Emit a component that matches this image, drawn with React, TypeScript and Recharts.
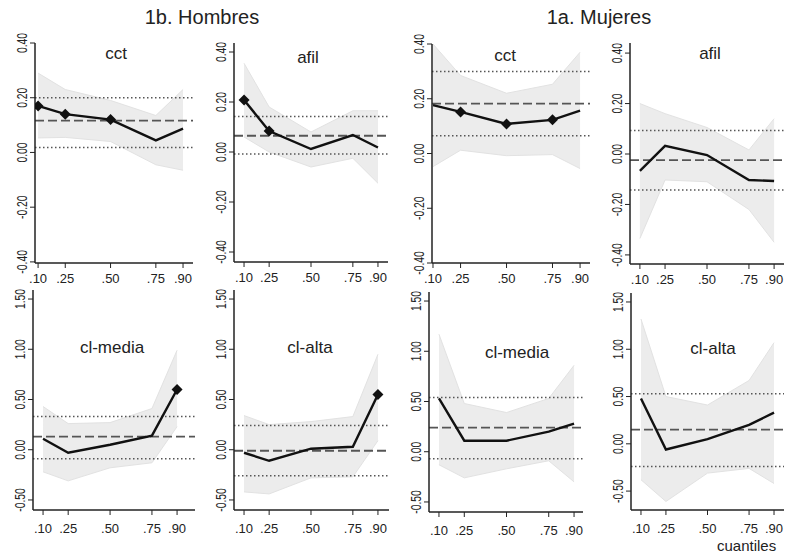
import { ComposedChart, Area, Line, XAxis, YAxis, ReferenceLine } from 'recharts'

const quantiles = [0.1, 0.25, 0.5, 0.75, 0.9]
const xTickLabels = ['.10', '.25', '.50', '.75', '.90']
const topTicks = [0.4, 0.2, 0, -0.2, -0.4]
const bottomTicks = [1.5, 1, 0.5, 0, -0.5]

// 1b. Hombres
const hCctEst = [0.17, 0.14, 0.12, 0.044, 0.087]
const hCctLo = [0.053, 0.055, 0.04, -0.045, -0.065]
const hCctHi = [0.29, 0.23, 0.19, 0.135, 0.23]
const hCctSig = [true, true, true, false, false]
const hCctOls = [0.116, 0.018, 0.2] // estimate, lower, upper

const hAfilEst = [0.208, 0.084, 0.012, 0.068, 0.018]
const hAfilLo = [0.06, 0.0, -0.06, -0.025, -0.125]
const hAfilHi = [0.355, 0.18, 0.08, 0.165, 0.165]
const hAfilSig = [true, true, false, false, false]
const hAfilOls = [0.065, -0.008, 0.142]

const hMediaEst = [0.11, -0.03, 0.05, 0.14, 0.6]
const hMediaLo = [-0.22, -0.31, -0.18, -0.13, 0.23]
const hMediaHi = [0.43, 0.26, 0.27, 0.41, 0.99]
const hMediaSig = [false, false, false, false, true]
const hMediaOls = [0.13, -0.09, 0.33]

const hAltaEst = [-0.03, -0.11, 0.01, 0.03, 0.55]
const hAltaLo = [-0.42, -0.44, -0.28, -0.27, 0.09]
const hAltaHi = [0.34, 0.25, 0.28, 0.33, 0.95]
const hAltaSig = [false, false, false, false, true]
const hAltaOls = [-0.01, -0.26, 0.24]

// 1a. Mujeres
const mCctEst = [0.177, 0.152, 0.108, 0.123, 0.157]
const mCctLo = [-0.048, 0.012, -0.008, -0.004, -0.055]
const mCctHi = [0.4, 0.285, 0.22, 0.253, 0.37]
const mCctSig = [false, true, true, true, false]
const mCctOls = [0.182, 0.065, 0.3]

const mAfilEst = [-0.067, 0.032, -0.004, -0.103, -0.107]
const mAfilLo = [-0.335, -0.103, -0.11, -0.22, -0.35]
const mAfilHi = [0.2, 0.16, 0.105, 0.016, 0.14]
const mAfilSig = [false, false, false, false, false]
const mAfilOls = [-0.024, -0.143, 0.093]

const mMediaEst = [0.53, 0.11, 0.11, 0.2, 0.28]
const mMediaLo = [-0.13, -0.26, -0.17, -0.09, -0.3]
const mMediaHi = [1.17, 0.48, 0.39, 0.53, 0.86]
const mMediaSig = [false, false, false, false, false]
const mMediaOls = [0.24, -0.07, 0.54]

const mAltaEst = [0.48, -0.06, 0.05, 0.2, 0.33]
const mAltaLo = [-0.38, -0.61, -0.31, -0.26, -0.42]
const mAltaHi = [1.32, 0.5, 0.41, 0.67, 1.07]
const mAltaSig = [false, false, false, false, false]
const mAltaOls = [0.15, -0.24, 0.53]

const FONT = '"Liberation Sans", Arial, sans-serif'
const INK = '#222'
const PAD = 14

type Box = { x0: number; x1: number; y0: number; y1: number }

interface PanelProps {
  est: number[]
  lo: number[]
  hi: number[]
  sig: boolean[]
  ols: number[]
  ticks: number[]
  box: Box
  xDomain: [number, number]
  yDomain: [number, number]
  labelDy: number
}

function Diamond(props: any) {
  const { cx, cy, index, sig } = props
  if (!sig[index] || cx == null) return <g key={`d${index}`} />
  const r = 5.5
  return (
    <path
      key={`d${index}`}
      d={`M${cx},${cy - r}L${cx + r},${cy}L${cx},${cy + r}L${cx - r},${cy}Z`}
      fill="#111"
    />
  )
}

function Panel({ est, lo, hi, sig, ols, ticks, box, xDomain, yDomain, labelDy }: PanelProps) {
  const data = quantiles.map((q, i) => ({ q, est: est[i], band: [lo[i], hi[i]] }))
  const left = box.x0 - 30
  const top = box.y0 - PAD
  const width = box.x1 - left + 2
  const height = box.y1 - top + 30

  return (
    <div style={{ position: 'absolute', left, top }}>
      <ComposedChart
        width={width}
        height={height}
        data={data}
        margin={{ top: PAD, right: 2, bottom: 0, left: 0 }}
      >
        <XAxis
          type="number"
          dataKey="q"
          domain={xDomain}
          ticks={quantiles}
          interval={0}
          allowDataOverflow
          axisLine={{ stroke: INK, strokeWidth: 1.5 }}
          tickLine={{ stroke: INK }}
          tickSize={5}
          height={30}
          tick={({ x, y, payload }: any) => (
            <text x={x} y={y + labelDy} textAnchor="middle" fontSize={13} fill={INK} fontFamily={FONT}>
              {xTickLabels[quantiles.indexOf(payload.value)]}
            </text>
          )}
        />
        <YAxis
          type="number"
          domain={yDomain}
          ticks={ticks}
          interval={0}
          allowDataOverflow
          width={30}
          axisLine={{ stroke: INK, strokeWidth: 1.5 }}
          tickLine={{ stroke: INK }}
          tickSize={5}
          tick={({ x, y, payload }: any) => (
            <text
              transform={`translate(${x - 1},${y}) rotate(-90) scale(0.74,1)`}
              textAnchor="middle"
              fontSize={14}
              fill={INK}
              fontFamily={FONT}
            >
              {payload.value.toFixed(2)}
            </text>
          )}
        />
        <Area
          type="linear"
          dataKey="band"
          stroke="#e2e2e2"
          strokeWidth={1}
          fill="#ececec"
          fillOpacity={1}
          isAnimationActive={false}
        />
        <ReferenceLine y={ols[1]} stroke="#555" strokeWidth={1.5} strokeDasharray="1.5 2.5" />
        <ReferenceLine y={ols[2]} stroke="#555" strokeWidth={1.5} strokeDasharray="1.5 2.5" />
        <ReferenceLine y={ols[0]} stroke="#555" strokeWidth={1.8} strokeDasharray="9 4" />
        <Line
          type="linear"
          dataKey="est"
          stroke="#111"
          strokeWidth={2.4}
          dot={(p: any) => <Diamond {...p} sig={sig} />}
          activeDot={false}
          isAnimationActive={false}
        />
      </ComposedChart>
    </div>
  )
}

const titleStyle = { fontFamily: FONT, fill: INK }

export default function App() {
  return (
    <div style={{ position: 'absolute', left: 0, top: 0, width: 785, height: 553, background: '#fff', overflow: 'hidden' }}>
      <Panel est={hCctEst} lo={hCctLo} hi={hCctHi} sig={hCctSig} ols={hCctOls} ticks={topTicks}
        box={{ x0: 35, x1: 193, y0: 43, y1: 263 }} xDomain={[0.083, 0.955]} yDomain={[-0.404, 0.4]} labelDy={13} />
      <Panel est={hAfilEst} lo={hAfilLo} hi={hAfilHi} sig={hAfilSig} ols={hAfilOls} ticks={topTicks}
        box={{ x0: 234, x1: 388, y0: 43, y1: 262 }} xDomain={[0.04, 0.96]} yDomain={[-0.44, 0.436]} labelDy={13} />
      <Panel est={mCctEst} lo={mCctLo} hi={mCctHi} sig={mCctSig} ols={mCctOls} ticks={topTicks}
        box={{ x0: 432, x1: 590, y0: 44, y1: 263 }} xDomain={[0.0946, 0.954]} yDomain={[-0.4, 0.4]} labelDy={13} />
      <Panel est={mAfilEst} lo={mAfilLo} hi={mAfilHi} sig={mAfilSig} ols={mAfilOls} ticks={topTicks}
        box={{ x0: 630, x1: 784, y0: 43, y1: 264 }} xDomain={[0.041, 0.959]} yDomain={[-0.436, 0.44]} labelDy={13} />

      <Panel est={hMediaEst} lo={hMediaLo} hi={hMediaHi} sig={hMediaSig} ols={hMediaOls} ticks={bottomTicks}
        box={{ x0: 33, x1: 195, y0: 290, y1: 510 }} xDomain={[0.04, 1.007]} yDomain={[-0.6, 1.59]} labelDy={16} />
      <Panel est={hAltaEst} lo={hAltaLo} hi={hAltaHi} sig={hAltaSig} ols={hAltaOls} ticks={bottomTicks}
        box={{ x0: 234, x1: 389, y0: 290, y1: 510 }} xDomain={[0.04, 0.966]} yDomain={[-0.6, 1.59]} labelDy={16} />
      <Panel est={mMediaEst} lo={mMediaLo} hi={mMediaHi} sig={mMediaSig} ols={mMediaOls} ticks={bottomTicks}
        box={{ x0: 429, x1: 583, y0: 292, y1: 512 }} xDomain={[0.041, 0.953]} yDomain={[-0.6, 1.59]} labelDy={16} />
      <Panel est={mAltaEst} lo={mAltaLo} hi={mAltaHi} sig={mAltaSig} ols={mAltaOls} ticks={bottomTicks}
        box={{ x0: 631, x1: 784, y0: 293, y1: 510 }} xDomain={[0.04, 0.96]} yDomain={[-0.7, 1.595]} labelDy={16} />

      <svg width={785} height={553} style={{ position: 'absolute', left: 0, top: 0, pointerEvents: 'none' }}>
        <text x={202} y={24} textAnchor="middle" fontSize={20} {...titleStyle}>1b. Hombres</text>
        <text x={599} y={24} textAnchor="middle" fontSize={20} {...titleStyle}>1a. Mujeres</text>
        <text x={116} y={59} textAnchor="middle" fontSize={17} {...titleStyle}>cct</text>
        <text x={308} y={63} textAnchor="middle" fontSize={17} {...titleStyle}>afil</text>
        <text x={505} y={61} textAnchor="middle" fontSize={17} {...titleStyle}>cct</text>
        <text x={710} y={59} textAnchor="middle" fontSize={17} {...titleStyle}>afil</text>
        <text x={112} y={353} textAnchor="middle" fontSize={17} {...titleStyle}>cl-media</text>
        <text x={310} y={353} textAnchor="middle" fontSize={17} {...titleStyle}>cl-alta</text>
        <text x={517} y={358} textAnchor="middle" fontSize={17} {...titleStyle}>cl-media</text>
        <text x={713} y={354} textAnchor="middle" fontSize={17} {...titleStyle}>cl-alta</text>
        <text x={717} y={551} fontSize={15} {...titleStyle}>cuantiles</text>
      </svg>
    </div>
  )
}
